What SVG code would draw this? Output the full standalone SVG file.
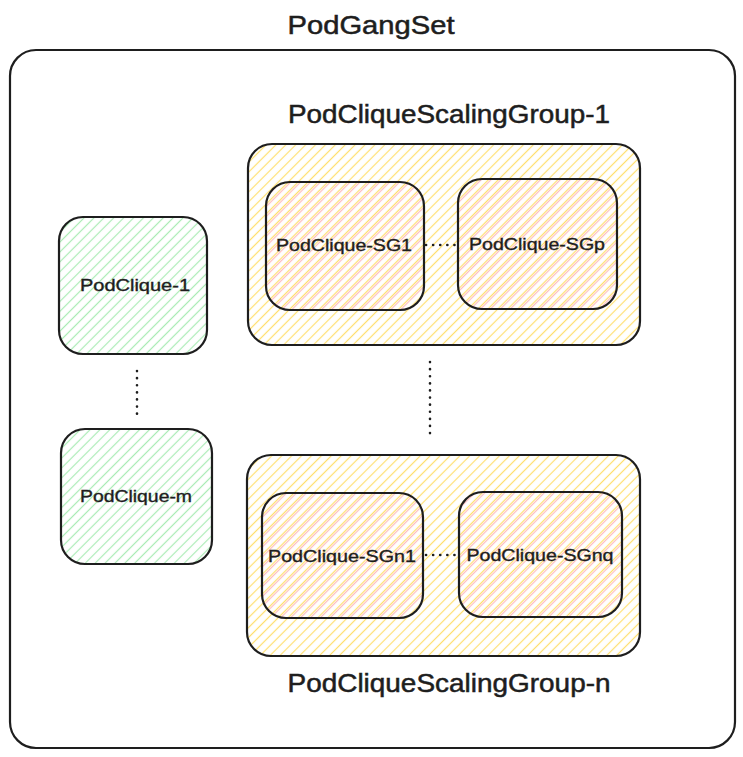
<svg xmlns="http://www.w3.org/2000/svg" width="743" height="757" viewBox="0 0 743 757">
<defs>
<pattern id="hy" width="7" height="7" patternUnits="userSpaceOnUse" patternTransform="rotate(45)"><line x1="3.5" y1="0" x2="3.5" y2="7" stroke="#ffdf6e" stroke-width="1.2"/></pattern>
<pattern id="hg" width="7" height="7" patternUnits="userSpaceOnUse" patternTransform="rotate(45)"><line x1="3.5" y1="0" x2="3.5" y2="7" stroke="#a9ebb4" stroke-width="1.2"/></pattern>
<pattern id="hr" width="7" height="7" patternUnits="userSpaceOnUse" patternTransform="rotate(45) translate(1.8 0)"><line x1="3.5" y1="0" x2="3.5" y2="7" stroke="#ffbdbd" stroke-width="1.2"/></pattern>
</defs>
<style>
.box{stroke:#1e1e1e;stroke-width:2.2;}
.t{font-family:"Liberation Sans",Arial,sans-serif;fill:#1e1e1e;stroke:#1e1e1e;stroke-width:0.5;text-anchor:middle;dominant-baseline:central;}
.big{font-size:25px;}
.sm{font-size:16px;stroke-width:0.35;}
.dot{stroke:#1e1e1e;stroke-width:2.6;stroke-linecap:round;stroke-dasharray:0.1 7;fill:none;}
</style>
<rect width="743" height="757" fill="#ffffff"/>
<g id="podgangset">
<rect class="box" x="10" y="50" width="725" height="698" rx="26" fill="none"/>
<text class="t big" x="371" y="25" textLength="167" lengthAdjust="spacingAndGlyphs">PodGangSet</text>
</g>
<g id="pcsg1">
<rect class="box" x="248" y="144" width="392" height="201" rx="24" fill="url(#hy)"/>
<text class="t big" x="449" y="114" textLength="322" lengthAdjust="spacingAndGlyphs">PodCliqueScalingGroup-1</text>
</g>
<g id="pcsgn">
<rect class="box" x="247" y="455" width="393" height="201" rx="24" fill="url(#hy)"/>
<text class="t big" x="449" y="683" textLength="323" lengthAdjust="spacingAndGlyphs">PodCliqueScalingGroup-n</text>
</g>
<g id="pc1">
<rect class="box" x="59" y="217" width="148" height="137" rx="24" fill="url(#hg)"/>
<text class="t sm" x="135" y="285" textLength="110" lengthAdjust="spacingAndGlyphs">PodClique-1</text>
</g>
<g id="pcm">
<rect class="box" x="61" y="429" width="151" height="135" rx="24" fill="url(#hg)"/>
<text class="t sm" x="136" y="496" textLength="112" lengthAdjust="spacingAndGlyphs">PodClique-m</text>
</g>
<g id="sg1">
<rect class="box" x="266" y="182" width="158" height="128" rx="24" fill="url(#hr)"/>
<text class="t sm" x="344" y="245" textLength="136" lengthAdjust="spacingAndGlyphs">PodClique-SG1</text>
</g>
<g id="sgp">
<rect class="box" x="458" y="179" width="159" height="130" rx="24" fill="url(#hr)"/>
<text class="t sm" x="537" y="244" textLength="136" lengthAdjust="spacingAndGlyphs">PodClique-SGp</text>
</g>
<g id="sgn1">
<rect class="box" x="262" y="493" width="161" height="125" rx="24" fill="url(#hr)"/>
<text class="t sm" x="342" y="556" textLength="148" lengthAdjust="spacingAndGlyphs">PodClique-SGn1</text>
</g>
<g id="sgnq">
<rect class="box" x="459" y="492" width="163" height="125" rx="24" fill="url(#hr)"/>
<text class="t sm" x="540" y="555" textLength="147" lengthAdjust="spacingAndGlyphs">PodClique-SGnq</text>
</g>
<g id="connectors">
<line class="dot" x1="426" y1="245" x2="457" y2="245"/>
<line class="dot" x1="426" y1="555" x2="457" y2="555"/>
<line class="dot" x1="137" y1="371" x2="137" y2="420"/>
<line class="dot" x1="430" y1="362" x2="430" y2="438"/>
</g>
</svg>
